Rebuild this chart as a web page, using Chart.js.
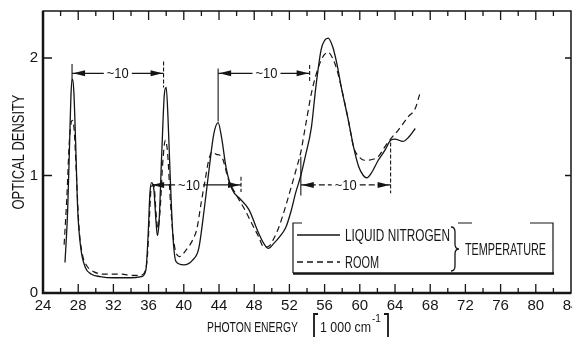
<!DOCTYPE html>
<html>
<head>
<meta charset="utf-8">
<script src="https://cdn.jsdelivr.net/npm/chart.js@4.4.1/dist/chart.umd.min.js"></script>
<style>
    html, body { margin: 0; padding: 0; background: #fff; overflow: hidden; }
    #wrap { width: 572px; height: 337px; }
</style>
</head>
<body>
<div id="wrap"><canvas id="odChart" width="572" height="337"></canvas></div>
<script>
// axis ticks
var energyTicks = [24, 28, 32, 36, 40, 44, 48, 52, 56, 60, 64, 68, 72, 76, 80, 84];
var densityTicks = [0, 1, 2];

// liquid nitrogen temperature (solid)
var nitrogenEnergy = [26.5, 26.8, 27.05, 27.2, 27.35, 27.5, 27.7, 27.95, 28.3, 28.8, 29.5, 30.5, 32, 34, 35.2, 35.7, 35.95, 36.15, 36.35, 36.6, 36.85, 37.0, 37.2, 37.5, 37.8, 38.0, 38.2, 38.45, 38.75, 39.1, 40.0, 41.0, 41.7, 42.3, 42.9, 43.4, 43.9, 44.3, 44.8, 45.5, 46.4, 47.4, 48.5, 49.1, 49.6, 50.2, 50.9, 51.6, 52.2, 52.7, 53.3, 53.8, 54.5, 55.0, 55.6, 56.0, 56.4, 56.9, 57.4, 57.9, 58.7, 59.3, 59.9, 60.4, 60.8, 61.3, 62.1, 62.9, 63.5, 64.0, 64.9, 65.6, 66.3];
var nitrogenDensity = [0.26, 0.7, 1.35, 1.72, 1.82, 1.72, 1.3, 0.7, 0.38, 0.22, 0.16, 0.14, 0.13, 0.13, 0.14, 0.2, 0.5, 0.85, 0.94, 0.88, 0.6, 0.49, 0.62, 1.2, 1.7, 1.75, 1.5, 1.0, 0.5, 0.27, 0.24, 0.28, 0.38, 0.7, 1.07, 1.35, 1.45, 1.32, 1.07, 0.88, 0.8, 0.71, 0.51, 0.42, 0.38, 0.42, 0.48, 0.56, 0.7, 0.85, 1.0, 1.16, 1.41, 1.75, 2.07, 2.15, 2.17, 2.1, 1.95, 1.75, 1.47, 1.24, 1.07, 1.0, 0.98, 1.02, 1.13, 1.22, 1.3, 1.31, 1.29, 1.33, 1.40];

// room temperature (dashed)
var roomEnergy = [26.4, 26.7, 27.0, 27.2, 27.35, 27.55, 27.8, 28.1, 28.5, 29.0, 29.8, 31, 32, 33, 34, 35, 35.5, 35.85, 36.1, 36.3, 36.6, 36.85, 37.05, 37.3, 37.6, 37.9, 38.15, 38.5, 38.9, 39.5, 40.3, 41.0, 41.5, 42.0, 42.4, 42.8, 43.2, 43.7, 44.3, 45.1, 46.0, 47.0, 47.8, 48.5, 49.1, 49.7, 50.2, 50.8, 51.5, 52.2, 52.8, 53.3, 53.8, 54.5, 55.0, 55.6, 56.0, 56.4, 56.9, 57.4, 57.9, 58.7, 59.3, 59.9, 60.5, 61.0, 61.6, 62.1, 62.9, 63.6, 64.3, 65.0, 65.5, 66.3, 66.8];
var roomDensity = [0.41, 0.8, 1.3, 1.45, 1.47, 1.38, 1.0, 0.55, 0.32, 0.23, 0.18, 0.16, 0.16, 0.16, 0.15, 0.15, 0.17, 0.3, 0.65, 0.9, 0.92, 0.68, 0.55, 0.7, 1.1, 1.3, 1.2, 0.75, 0.42, 0.31, 0.37, 0.45, 0.55, 0.78, 0.95, 1.12, 1.2, 1.18, 1.16, 0.96, 0.83, 0.7, 0.58, 0.48, 0.39, 0.4, 0.46, 0.56, 0.72, 0.9, 1.06, 1.2, 1.41, 1.7, 1.85, 1.98, 2.03, 2.05, 2.0, 1.9, 1.75, 1.47, 1.24, 1.16, 1.13, 1.13, 1.14, 1.16, 1.25, 1.32, 1.38, 1.45, 1.5, 1.57, 1.69];

// "~10" spacing marks (energy / density units)
var spanFrom = [27.3, 43.9, 36.4, 53.3];
var spanTo = [37.7, 54.3, 46.5, 63.5];
var spanLevel = [1.87, 1.87, 0.92, 0.92];
var spanLabelAt = [32.5, 49.4, 40.6, 58.4];
var spanLeftMark = [[1.95, 1.80], [1.91, 1.46], null, [1.16, 0.83]];
var spanRightMark = [[1.97, 1.75], [1.94, 1.80], [0.99, 0.86], [1.28, 0.85]];

var FONT = '"Liberation Sans", Arial, sans-serif';
var INK = '#151515';

function toPoints(xs, ys) {
    return xs.map(function (x, i) { return { x: x, y: ys[i] }; });
}

// old typewriter lettering is narrow, so squeeze text to a given width
function fitText(ctx, text, x, y, width) {
    var w = ctx.measureText(text).width;
    ctx.save();
    ctx.translate(x, y);
    ctx.scale(width / w, 1);
    ctx.fillText(text, 0, 0);
    ctx.restore();
}

function arrowHead(ctx, x, y, dir) {
    ctx.beginPath();
    ctx.moveTo(x, y);
    ctx.lineTo(x - dir * 12, y - 3);
    ctx.lineTo(x - dir * 12, y + 3);
    ctx.closePath();
    ctx.fill();
}

function brace(ctx, x, top, bottom) {
    var mid = (top + bottom) / 2;
    ctx.beginPath();
    ctx.moveTo(x, top);
    ctx.quadraticCurveTo(x + 4, top, x + 4, top + 5);
    ctx.lineTo(x + 4, mid - 5);
    ctx.quadraticCurveTo(x + 4, mid, x + 8, mid);
    ctx.quadraticCurveTo(x + 4, mid, x + 4, mid + 5);
    ctx.lineTo(x + 4, bottom - 5);
    ctx.quadraticCurveTo(x + 4, bottom, x, bottom);
    ctx.stroke();
}

var paperPlugin = {
    id: 'paper',
    afterDraw: function (chart) {
        var ctx = chart.ctx, a = chart.chartArea;
        var xs = chart.scales.x, ys = chart.scales.y;
        ctx.save();
        ctx.strokeStyle = INK;
        ctx.fillStyle = INK;

        // frame
        ctx.lineWidth = 1.5;
        ctx.strokeRect(a.left, a.top, a.right - a.left, a.bottom - a.top);
        ctx.lineWidth = 2.5;
        ctx.beginPath();
        ctx.moveTo(a.left, a.top);
        ctx.lineTo(a.left, a.bottom);
        ctx.lineTo(a.right, a.bottom);
        ctx.stroke();

        // inward ticks
        ctx.lineWidth = 1.3;
        ctx.beginPath();
        for (var v = 26; v < 84; v += 2) {
            var px = xs.getPixelForValue(v);
            var len = v % 4 === 0 ? 9 : 5;
            ctx.moveTo(px, a.bottom);
            ctx.lineTo(px, a.bottom - len);
            ctx.moveTo(px, a.top);
            ctx.lineTo(px, a.top + len);
        }
        densityTicks.forEach(function (d) {
            if (d === 0) return;
            var py = ys.getPixelForValue(d);
            ctx.moveTo(a.left, py);
            ctx.lineTo(a.left + 9, py);
            ctx.moveTo(a.right, py);
            ctx.lineTo(a.right - 6, py);
        });
        ctx.stroke();

        // spacing arrows
        ctx.font = '15px ' + FONT;
        ctx.textAlign = 'center';
        ctx.textBaseline = 'middle';
        for (var i = 0; i < spanFrom.length; i++) {
            var x1 = xs.getPixelForValue(spanFrom[i]);
            var x2 = xs.getPixelForValue(spanTo[i]);
            var y = ys.getPixelForValue(spanLevel[i]);
            var tx = xs.getPixelForValue(spanLabelAt[i]);
            var tw = 14;
            ctx.lineWidth = 1.3;
            ctx.setLineDash(i === 3 ? [6, 3] : []);
            ctx.beginPath();
            ctx.moveTo(x1, y);
            ctx.lineTo(tx - tw, y);
            ctx.moveTo(tx + tw, y);
            ctx.lineTo(x2, y);
            ctx.stroke();
            ctx.setLineDash([]);
            arrowHead(ctx, x1 + (i === 2 ? 0 : 1), y, -1);
            arrowHead(ctx, x2 - 1, y, 1);
            fitText(ctx, '~10', tx, y + 1, 22);
            ctx.lineWidth = 1.1;
            if (spanLeftMark[i]) {
                ctx.beginPath();
                ctx.moveTo(x1, ys.getPixelForValue(spanLeftMark[i][0]));
                ctx.lineTo(x1, ys.getPixelForValue(spanLeftMark[i][1]));
                ctx.stroke();
            }
            ctx.setLineDash([4, 2]);
            ctx.beginPath();
            ctx.moveTo(x2, ys.getPixelForValue(spanRightMark[i][0]));
            ctx.lineTo(x2, ys.getPixelForValue(spanRightMark[i][1]));
            ctx.stroke();
            ctx.setLineDash([]);
        }

        // legend box
        ctx.lineWidth = 1.2;
        ctx.beginPath();
        ctx.moveTo(302, 223); ctx.lineTo(293, 223); ctx.lineTo(293, 273);
        ctx.moveTo(458, 223); ctx.lineTo(472, 223);
        ctx.moveTo(530, 223); ctx.lineTo(553, 223); ctx.lineTo(553, 273);
        ctx.stroke();
        ctx.lineWidth = 2.5;
        ctx.beginPath();
        ctx.moveTo(293, 273.5); ctx.lineTo(554, 273.5);
        ctx.stroke();
        ctx.lineWidth = 1.3;
        ctx.beginPath();
        ctx.moveTo(297, 235); ctx.lineTo(340, 235);
        ctx.stroke();
        ctx.setLineDash([6, 4]);
        ctx.beginPath();
        ctx.moveTo(297, 262); ctx.lineTo(340, 262);
        ctx.stroke();
        ctx.setLineDash([]);
        ctx.font = '16.5px ' + FONT;
        ctx.textAlign = 'left';
        fitText(ctx, 'LIQUID NITROGEN', 345, 236, 105);
        fitText(ctx, 'ROOM', 345, 263, 34);
        fitText(ctx, 'TEMPERATURE', 465, 250, 81);
        ctx.lineWidth = 1.3;
        brace(ctx, 451, 227, 271);

        // axis titles
        ctx.font = '16.5px ' + FONT;
        ctx.save();
        ctx.translate(19, 152);
        ctx.rotate(-Math.PI / 2);
        ctx.textAlign = 'center';
        fitText(ctx, 'OPTICAL DENSITY', 0, 0, 115);
        ctx.restore();

        ctx.textAlign = 'left';
        ctx.textBaseline = 'alphabetic';
        ctx.font = '15px ' + FONT;
        fitText(ctx, 'PHOTON ENERGY', 207, 332, 91);
        fitText(ctx, '1 000 cm', 320, 332, 51);
        ctx.font = '11px ' + FONT;
        fitText(ctx, '-1', 372, 322, 9);
        ctx.lineWidth = 1.8;
        ctx.beginPath();
        ctx.moveTo(318, 314); ctx.lineTo(314, 314); ctx.lineTo(314, 338); ctx.lineTo(318, 338);
        ctx.moveTo(384, 314); ctx.lineTo(388, 314); ctx.lineTo(388, 338); ctx.lineTo(384, 338);
        ctx.stroke();
        ctx.restore();
    }
};

var ctx = document.getElementById('odChart').getContext('2d');
var odChart = new Chart(ctx, {
    type: 'line',
    data: {
        datasets: [{
            label: 'LIQUID NITROGEN',
            data: toPoints(nitrogenEnergy, nitrogenDensity),
            borderColor: INK,
            borderWidth: 1.3,
            pointRadius: 0,
            fill: false,
            cubicInterpolationMode: 'monotone'
        }, {
            label: 'ROOM',
            data: toPoints(roomEnergy, roomDensity),
            borderColor: INK,
            borderWidth: 1.2,
            borderDash: [6, 4],
            pointRadius: 0,
            fill: false,
            cubicInterpolationMode: 'monotone'
        }]
    },
    options: {
        responsive: false,
        animation: false,
        layout: { padding: { top: 11, right: 1, left: 0, bottom: 0 } },
        plugins: { legend: { display: false }, tooltip: { enabled: false } },
        scales: {
            x: {
                type: 'linear',
                min: 24,
                max: 84,
                afterFit: function (s) {
                    s.height = 44;
                    s.paddingLeft = 0;
                    s.paddingRight = 0;
                },
                afterBuildTicks: function (s) {
                    s.ticks = energyTicks.map(function (v) { return { value: v }; });
                },
                grid: { display: false, drawTicks: false },
                border: { display: false },
                ticks: {
                    padding: 4,
                    maxRotation: 0,
                    autoSkip: false,
                    color: INK,
                    font: { family: FONT, size: 15 }
                }
            },
            y: {
                type: 'linear',
                min: 0,
                max: 2.4,
                afterFit: function (s) {
                    s.width = 43;
                    s.paddingTop = 0;
                    s.paddingBottom = 0;
                },
                afterBuildTicks: function (s) {
                    s.ticks = densityTicks.map(function (v) { return { value: v }; });
                },
                grid: { display: false, drawTicks: false },
                border: { display: false },
                ticks: {
                    padding: 5,
                    color: INK,
                    font: { family: FONT, size: 15 }
                }
            }
        }
    },
    plugins: [paperPlugin]
});
</script>
</body>
</html>
